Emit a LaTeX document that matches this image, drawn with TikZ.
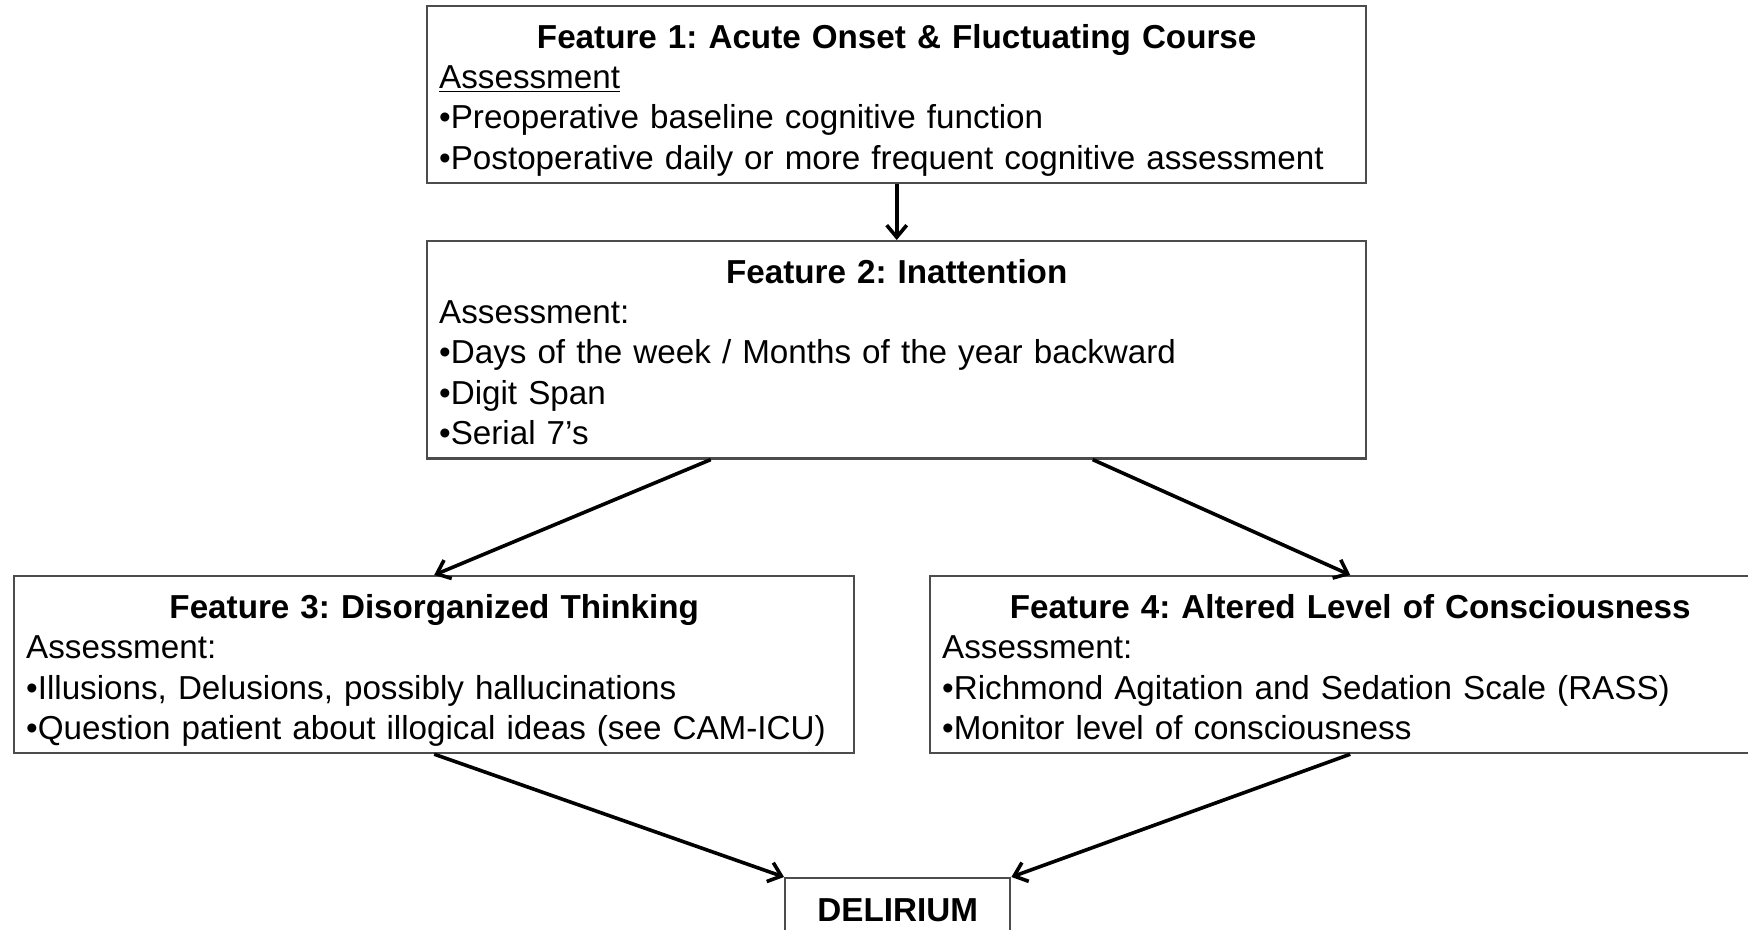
\documentclass[tikz,border=0pt]{standalone}
\usepackage{fontspec}
\setmainfont{Liberation Sans}
\usetikzlibrary{arrows.meta, positioning}

\tikzset{
    featbox/.style={draw=black!70, line width=1.2pt, anchor=north west,
        inner xsep=6pt, inner ysep=0pt, align=left,
        font=\fontsize{16.6}{20.2}\selectfont},
    flowarrow/.style={line width=1.8pt, -{Straight Barb[length=6pt, width=10pt, line width=1.8pt]}},
}
\newcommand{\boxtitle}[1]{\makebox[\hsize]{\rule{0pt}{21pt}\bfseries #1}}
\newcommand{\boxbottom}{\rule[-6.8pt]{0pt}{0pt}}

\begin{document}
\frenchspacing
\begin{tikzpicture}[x=0.5pt, y=-0.5pt]
    \useasboundingbox (0,0) rectangle (1748,930);

    % the four features
    \node[featbox, text width=457.5pt] (feat1) at (426,5) {%
        \boxtitle{Feature 1: Acute Onset \& Fluctuating Course}\\
        \underline{Assessment}\\
        •Preoperative baseline cognitive function\\
        •Postoperative daily or more frequent cognitive assessment\boxbottom};

    \node[featbox, text width=457.5pt] (feat2) at (426,240) {%
        \boxtitle{Feature 2: Inattention}\\
        Assessment:\\
        •Days of the week / Months of the year backward\\
        •Digit Span\\
        •Serial 7’s\boxbottom};

    \node[featbox, text width=408pt] (feat3) at (13,575) {%
        \boxtitle{Feature 3: Disorganized Thinking}\\
        Assessment:\\
        •Illusions, Delusions, possibly hallucinations\\
        •Question patient about illogical ideas (see CAM-ICU)\boxbottom};

    \node[featbox, text width=408pt] (feat4) at (929,575) {%
        \boxtitle{Feature 4: Altered Level of Consciousness}\\
        Assessment:\\
        •Richmond Agitation and Sedation Scale (RASS)\\
        •Monitor level of consciousness\boxbottom};

    % outcome
    \node[featbox, minimum width=112.5pt, minimum height=32pt, align=center,
        font=\fontsize{16.6}{20.2}\selectfont\bfseries] (delirium) at (784,877) {DELIRIUM};

    % connectors
    \draw[flowarrow] (feat1.south) -- (feat2.north);
    \draw[flowarrow] ([xshift=-93pt]feat2.south) -- (feat3.north);
    \draw[flowarrow] ([xshift=98pt]feat2.south) -- (feat4.north);
    \draw[flowarrow] (feat3.south) -- (delirium.north west);
    \draw[flowarrow] (feat4.south) -- (delirium.north east);
\end{tikzpicture}
\end{document}
